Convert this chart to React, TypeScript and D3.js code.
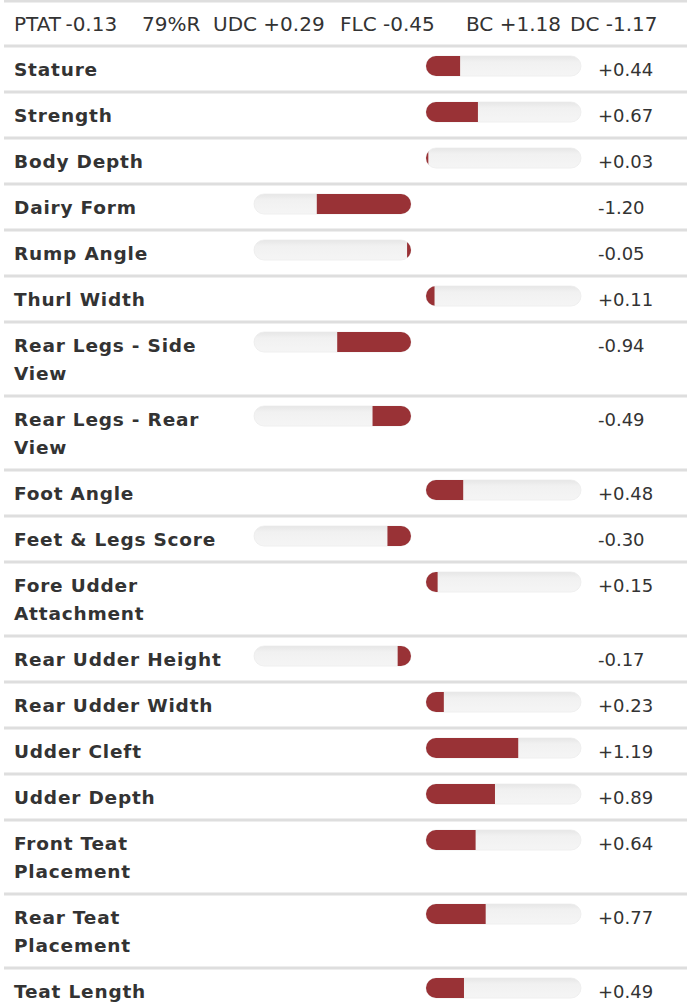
import React, { useEffect, useRef } from "react";
import * as d3 from "d3";

// header summary
const headerLabels = ["PTAT -0.13", "79%R", "UDC +0.29", "FLC -0.45", "BC +1.18", "DC -1.17"];
const headerX = [14, 142, 213, 340, 466, 570];

// traits and values
const traits = [
  "Stature",
  "Strength",
  "Body Depth",
  "Dairy Form",
  "Rump Angle",
  "Thurl Width",
  "Rear Legs - Side View",
  "Rear Legs - Rear View",
  "Foot Angle",
  "Feet & Legs Score",
  "Fore Udder Attachment",
  "Rear Udder Height",
  "Rear Udder Width",
  "Udder Cleft",
  "Udder Depth",
  "Front Teat Placement",
  "Rear Teat Placement",
  "Teat Length",
];
const values = [0.44, 0.67, 0.03, -1.2, -0.05, 0.11, -0.94, -0.49, 0.48, -0.3, 0.15, -0.17, 0.23, 1.19, 0.89, 0.64, 0.77, 0.49];

const W = 687;
const H = 1005;

const fmt = (v: number) => (v >= 0 ? "+" : "-") + Math.abs(v).toFixed(2);

const App = () => {
  const ref = useRef<SVGSVGElement>(null);

  useEffect(() => {
    const svg = d3.select(ref.current);
    svg.selectAll("*").remove();

    const font = "'DejaVu Sans', sans-serif";
    const textColor = "#333";
    const lineColor = "#dedede";
    const barColor = "#993236";
    const trackColor = "#f1f1f1";

    const labelX = 14;
    const wrapWidth = 222;
    const lineH = 28;
    const singleH = 46;
    const labelSize = "18.5px";
    const spacing = "0.8";

    const negLeft = 254, negRight = 411;
    const posLeft = 426, posRight = 581;
    const trackH = 20;
    const rad = 10;

    const xNeg = d3.scaleLinear().domain([0, -2]).range([negRight, negLeft]);
    const xPos = d3.scaleLinear().domain([0, 2]).range([posLeft, posRight]);

    // wrap labels by measuring
    const meas = svg.append("text")
      .style("font-family", font).style("font-size", labelSize).style("font-weight", "bold")
      .attr("letter-spacing", spacing);
    const wrapped = traits.map(t => {
      const words = t.split(" ");
      const lines: string[] = [];
      let cur = "";
      words.forEach(w => {
        const test = cur ? cur + " " + w : w;
        meas.text(test);
        if ((meas.node() as SVGTextElement).getComputedTextLength() > wrapWidth && cur) {
          lines.push(cur);
          cur = w;
        } else cur = test;
      });
      lines.push(cur);
      return lines;
    });
    meas.remove();

    const defs = svg.append("defs");
    const grad = defs.append("linearGradient").attr("id", "trk").attr("x1", 0).attr("x2", 0).attr("y1", 0).attr("y2", 1);
    grad.append("stop").attr("offset", "0%").attr("stop-color", "#e6e6e6");
    grad.append("stop").attr("offset", "30%").attr("stop-color", trackColor);
    grad.append("stop").attr("offset", "100%").attr("stop-color", "#f5f5f5");

    // header
    svg.append("rect").attr("x", 4).attr("y", 0).attr("width", W - 4).attr("height", 2.5).attr("fill", lineColor);
    svg.selectAll(".hdr").data(headerLabels).enter().append("text")
      .attr("x", (_, i) => headerX[i]).attr("y", 31)
      .style("font-family", font).style("font-size", "20px").attr("fill", textColor)
      .attr("word-spacing", (_, i) => (i === 0 ? -2 : 0))
      .text(d => d);

    let y = 44.5;
    traits.forEach((t, i) => {
      const lines = wrapped[i];
      const h = singleH + (lines.length - 1) * lineH;
      const v = values[i];
      const g = svg.append("g").attr("transform", `translate(0,${y})`);

      g.append("rect").attr("x", 4).attr("y", 0).attr("width", W - 4).attr("height", 3).attr("fill", lineColor);

      g.append("text")
        .attr("x", labelX).attr("y", 31)
        .style("font-family", font).style("font-size", labelSize).style("font-weight", "bold")
        .attr("letter-spacing", spacing).attr("fill", textColor)
        .selectAll("tspan").data(lines).enter().append("tspan")
        .attr("x", labelX).attr("dy", (_, k) => (k === 0 ? 0 : lineH)).text(d => d);

      const neg = v < 0;
      const tl = neg ? negLeft : posLeft;
      const tr = neg ? negRight : posRight;
      const ty = 11.5;
      const cid = `clip${i}`;
      g.append("clipPath").attr("id", cid).append("rect")
        .attr("x", tl).attr("y", ty).attr("width", tr - tl).attr("height", trackH).attr("rx", rad);
      g.append("rect")
        .attr("x", tl).attr("y", ty).attr("width", tr - tl).attr("height", trackH).attr("rx", rad)
        .attr("fill", "url(#trk)").attr("stroke", "#ececec").attr("stroke-width", 0.8);
      const x0 = neg ? xNeg(v) : xPos(0);
      const x1 = neg ? xNeg(0) : xPos(v);
      g.append("rect")
        .attr("clip-path", `url(#${cid})`)
        .attr("x", x0).attr("y", ty).attr("width", Math.max(0, x1 - x0)).attr("height", trackH)
        .attr("fill", barColor);

      g.append("text")
        .attr("x", 598).attr("y", 31)
        .style("font-family", font).style("font-size", "18px").attr("fill", textColor)
        .text(fmt(v));

      y += h;
    });
  }, []);

  return (
    <div style={{ position: "absolute", left: 0, top: 0, width: W, height: H, background: "#fff" }}>
      <svg ref={ref} width={W} height={H} style={{ display: "block" }} />
    </div>
  );
};

export default App;
